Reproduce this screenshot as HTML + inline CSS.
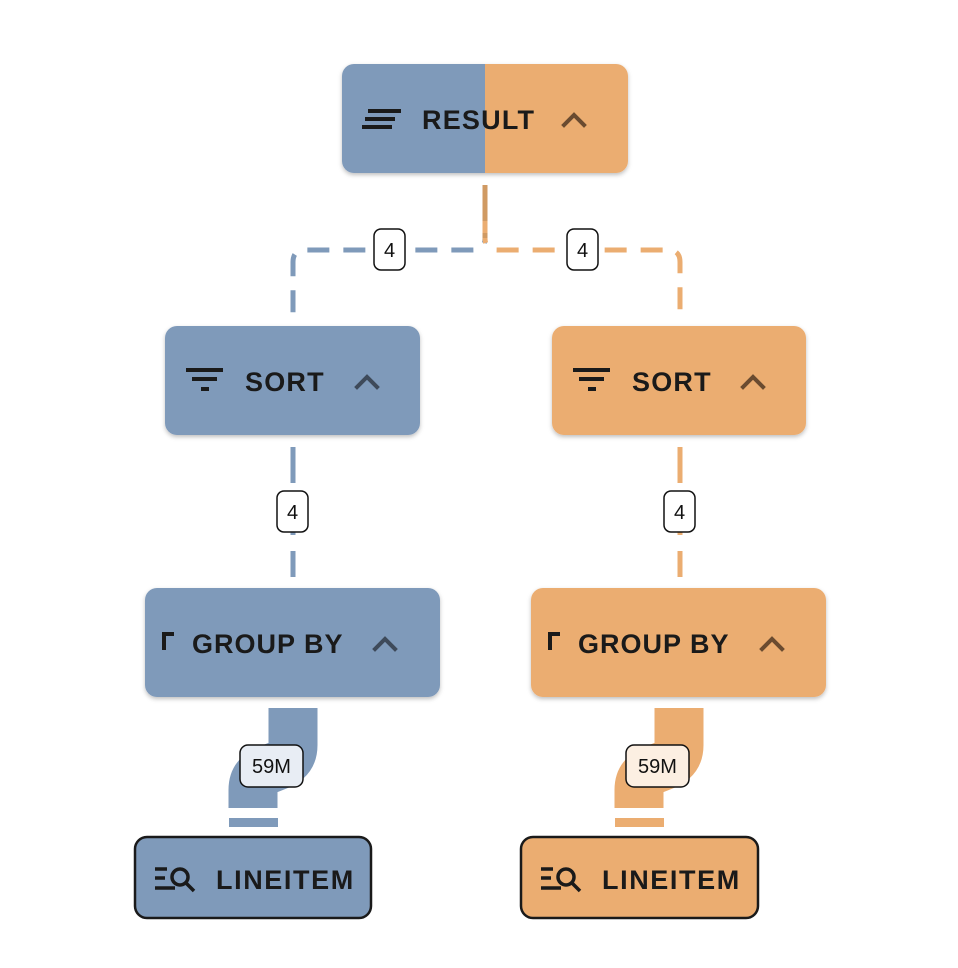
<!DOCTYPE html>
<html><head><style>
html,body{margin:0;padding:0;background:#fff;}
body{width:958px;height:968px;position:relative;overflow:hidden;font-family:"Liberation Sans",sans-serif;}
</style></head><body>
<svg width="958" height="968" viewBox="0 0 958 968" xmlns="http://www.w3.org/2000/svg" style="position:absolute;left:0;top:0">
<defs>
<filter id="sh" x="-10%" y="-10%" width="120%" height="130%"><feDropShadow dx="0" dy="2" stdDeviation="2" flood-color="#000" flood-opacity="0.25"/></filter>
<clipPath id="rc"><rect x="342" y="64" width="286" height="109" rx="12"/></clipPath>
</defs>
<g fill="none" stroke-width="5">
<path d="M485,185 V238 Q485,250 473,250 H305 Q293,250 293,262 V320" stroke="#7f9aba" stroke-dasharray="22,14"/>
<path d="M485,185 V238 Q485,250 497,250 H668 Q680,250 680,262 V320" stroke="#ebad71" stroke-dasharray="22,14"/>
<path d="M485,185 V238" stroke="#d09a63" stroke-dasharray="36,12"/>
<path d="M293,447 V577" stroke="#7f9aba" stroke-dasharray="36,16"/>
<path d="M680,447 V577" stroke="#ebad71" stroke-dasharray="36,16"/>
</g>
<g fill="none" stroke-width="49">
<path d="M293,708 V745 C293,775 253,760 253,790 V808" stroke="#7f9aba"/>
<path d="M679,708 V745 C679,775 639,760 639,790 V808" stroke="#ebad71"/>
</g>
<rect x="229" y="818" width="49" height="9" fill="#7f9aba"/>
<rect x="615" y="818" width="49" height="9" fill="#ebad71"/>
<g filter="url(#sh)">
<g clip-path="url(#rc)"><rect x="342" y="64" width="143" height="109" fill="#7f9aba"/><rect x="485" y="64" width="143" height="109" fill="#ebad71"/></g>
<rect x="165" y="326" width="255" height="109" rx="12" fill="#7f9aba"/>
<rect x="552" y="326" width="254" height="109" rx="12" fill="#ebad71"/>
<rect x="145" y="588" width="295" height="109" rx="12" fill="#7f9aba"/>
<rect x="531" y="588" width="295" height="109" rx="12" fill="#ebad71"/>
</g>
<rect x="135" y="837" width="236" height="81" rx="12" fill="#7f9aba" stroke="#1a1a1a" stroke-width="2.5"/>
<rect x="521" y="837" width="237" height="81" rx="12" fill="#ebad71" stroke="#1a1a1a" stroke-width="2.5"/>
<g font-family="Liberation Sans, sans-serif" font-size="20" text-anchor="middle" fill="#111">
<rect x="374" y="229" width="31" height="41" rx="7" fill="#fff" stroke="#111" stroke-width="1.5"/><text x="389.5" y="257">4</text>
<rect x="567" y="229" width="31" height="41" rx="7" fill="#fff" stroke="#111" stroke-width="1.5"/><text x="582.5" y="257">4</text>
<rect x="277" y="491" width="31" height="41" rx="7" fill="#fff" stroke="#111" stroke-width="1.5"/><text x="292.5" y="519">4</text>
<rect x="664" y="491" width="31" height="41" rx="7" fill="#fff" stroke="#111" stroke-width="1.5"/><text x="679.5" y="519">4</text>
<rect x="240" y="745" width="63" height="42" rx="8" fill="#e8edf4" stroke="#111" stroke-width="1.5"/><text x="271.5" y="773">59M</text>
<rect x="626" y="745" width="63" height="42" rx="8" fill="#fcefe2" stroke="#111" stroke-width="1.5"/><text x="657.5" y="773">59M</text>
</g>
<g font-family="Liberation Sans, sans-serif" font-weight="bold" font-size="27" fill="#1a1a1a" letter-spacing="1.2">
<text x="422" y="129">RESULT</text>
<text x="245" y="391">SORT</text>
<text x="632" y="391">SORT</text>
<text x="192" y="653" letter-spacing="1">GROUP BY</text>
<text x="578" y="653" letter-spacing="1">GROUP BY</text>
<text x="216" y="889" letter-spacing="1.6">LINEITEM</text>
<text x="602" y="889" letter-spacing="1.6">LINEITEM</text>
</g>
<g fill="#1a1a1a">
<rect x="368" y="109" width="33" height="4"/><rect x="365" y="117" width="30" height="4"/><rect x="362" y="125" width="30" height="4"/>
<rect x="186" y="368" width="37" height="4"/><rect x="192" y="377" width="25" height="4"/><rect x="201" y="387" width="8" height="4"/>
<rect x="573" y="368" width="37" height="4"/><rect x="579" y="377" width="25" height="4"/><rect x="588" y="387" width="8" height="4"/>
<rect x="162" y="632" width="4" height="18"/><rect x="162" y="632" width="12" height="4"/>
<rect x="548" y="632" width="4" height="18"/><rect x="548" y="632" width="12" height="4"/>
</g>
<g fill="none" stroke="#1a1a1a" stroke-width="3.5">
<path d="M155,869 h12 M155,878 h10 M155,888 h20"/><circle cx="180" cy="877" r="8"/><path d="M186,883 l8,8"/>
<path d="M541,869 h12 M541,878 h10 M541,888 h20"/><circle cx="566" cy="877" r="8"/><path d="M572,883 l8,8"/>
</g>
<g fill="none" stroke-width="4" stroke-linecap="square">
<path d="M564,125 l10,-10 l10,10" stroke="#6a4b30"/>
<path d="M357,387 l10,-10 l10,10" stroke="#3e4a5a"/>
<path d="M743,387 l10,-10 l10,10" stroke="#6a4b30"/>
<path d="M375,649 l10,-10 l10,10" stroke="#3e4a5a"/>
<path d="M762,649 l10,-10 l10,10" stroke="#6a4b30"/>
</g>
</svg>
</body></html>
